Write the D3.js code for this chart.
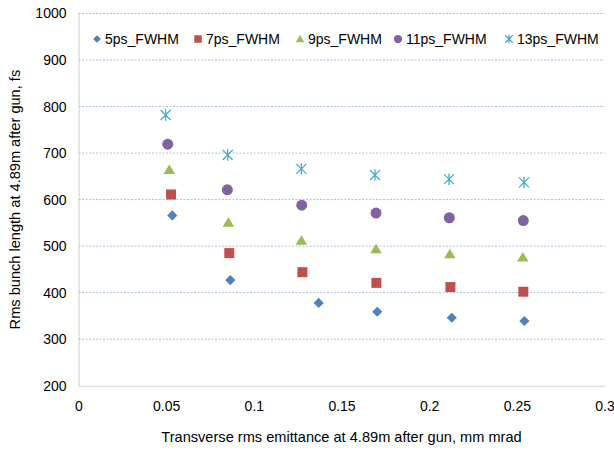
<!DOCTYPE html>
<html><head><meta charset="utf-8">
<script src="https://cdn.jsdelivr.net/npm/d3@7"></script>
<style>body{margin:0;background:#fff}text{font-family:"Liberation Sans",Arial,sans-serif;fill:#000}</style>
</head><body><svg id="c" width="614" height="455"></svg>
<script>
const seriesNames = ["5ps_FWHM","7ps_FWHM","9ps_FWHM","11ps_FWHM","13ps_FWHM"];
const x5 = [0.0535,0.0866,0.1370,0.1704,0.2129,0.2543];
const y5 = [566,427,378,359,346,339];
const x7 = [0.0528,0.0860,0.1277,0.1699,0.2121,0.2537];
const y7 = [611,485,444,421,412,402];
const x9 = [0.0518,0.0855,0.1271,0.1697,0.2118,0.2534];
const y9 = [664,551,512,494,483,476];
const x11 = [0.0509,0.0849,0.1273,0.1697,0.2115,0.2537];
const y11 = [719,621,588,571,561,555];
const x13 = [0.0497,0.0851,0.1271,0.1691,0.2113,0.2541];
const y13 = [782,696,666,653,644,637];
const xTicks = [0,0.05,0.1,0.15,0.2,0.25,0.3];
const yTicks = [200,300,400,500,600,700,800,900,1000];
const colors = ["#4F81BD","#C0504D","#9BBB59","#8064A2","#4BACC6"];

const xs=[x5,x7,x9,x11,x13], ys=[y5,y7,y9,y11,y13];
const svg=d3.select("#c");
const L=78.5,R=604.5,T=13.5,B=385.7;
const x=d3.scaleLinear().domain([0,0.3]).range([L,R]);
const y=d3.scaleLinear().domain([200,1000]).range([B,T]);

// gridlines
svg.append("g").selectAll("line").data(yTicks.filter(d=>d>200)).join("line")
 .attr("x1",L).attr("x2",R).attr("y1",d=>y(d)).attr("y2",d=>y(d))
 .attr("stroke","#a7bfdc").attr("stroke-width",1).attr("stroke-dasharray","2,1.5");

// axes
const xa=svg.append("g").attr("transform",`translate(0,${B})`)
 .call(d3.axisBottom(x).tickValues(xTicks).tickSize(0).tickPadding(15).tickFormat(d=>String(d)));
xa.select(".domain").attr("stroke","#d0d0d0");
xa.selectAll("text").attr("font-size","14px").attr("font-family","Liberation Sans, Arial, sans-serif");
const ya=svg.append("g").attr("transform",`translate(${L},0)`)
 .call(d3.axisLeft(y).tickValues(yTicks).tickSize(0).tickPadding(12).tickFormat(d3.format("d")));
ya.select(".domain").attr("stroke","#d0d0d0");
ya.selectAll("text").attr("font-size","14px").attr("font-family","Liberation Sans, Arial, sans-serif");

// titles
svg.append("text").attr("x",(L+R)/2).attr("y",442).attr("text-anchor","middle").attr("font-size","14.6px")
 .text("Transverse rms emittance at 4.89m after gun, mm mrad");
svg.append("text").attr("transform",`translate(20,${(T+B)/2}) rotate(-90)`).attr("text-anchor","middle").attr("font-size","14.6px")
 .text("Rms bunch length at 4.89m after gun, fs");

// marker shapes
function marker(g,i,s){
  const c=colors[i];
  if(i===0){g.append("rect").attr("x",-s*0.36).attr("y",-s*0.36).attr("width",s*0.72).attr("height",s*0.72).attr("transform","rotate(45)").attr("fill",c);}
  else if(i===1){g.append("rect").attr("x",-s/2).attr("y",-s/2).attr("width",s).attr("height",s).attr("fill",c);}
  else if(i===2){const h=s*0.95;g.append("path").attr("d",`M0,${-h*0.55}L${s*0.58},${h*0.45}L${-s*0.58},${h*0.45}Z`).attr("fill",c);}
  else if(i===3){g.append("circle").attr("r",s*0.55).attr("fill",c);}
  else {const r=s*0.5;g.append("path").attr("d",`M${-r},${-r}L${r},${r}M${r},${-r}L${-r},${r}M0,${-r*1.15}L0,${r*1.15}`).attr("stroke",c).attr("stroke-width",1.3).attr("fill","none");}
}

seriesNames.forEach((n,i)=>{
  const g=svg.append("g");
  xs[i].forEach((xv,k)=>{
    const m=g.append("g").attr("transform",`translate(${x(xv)},${y(ys[i][k])})`);
    marker(m,i,10);
  });
});

// legend
const legX=[97,198,300,398,509];
seriesNames.forEach((n,i)=>{
  const m=svg.append("g").attr("transform",`translate(${legX[i]},${39})`);
  marker(m,i,7.5);
  svg.append("text").attr("x",legX[i]+8).attr("y",44).attr("font-size","14px").text(n);
});
</script></body></html>
